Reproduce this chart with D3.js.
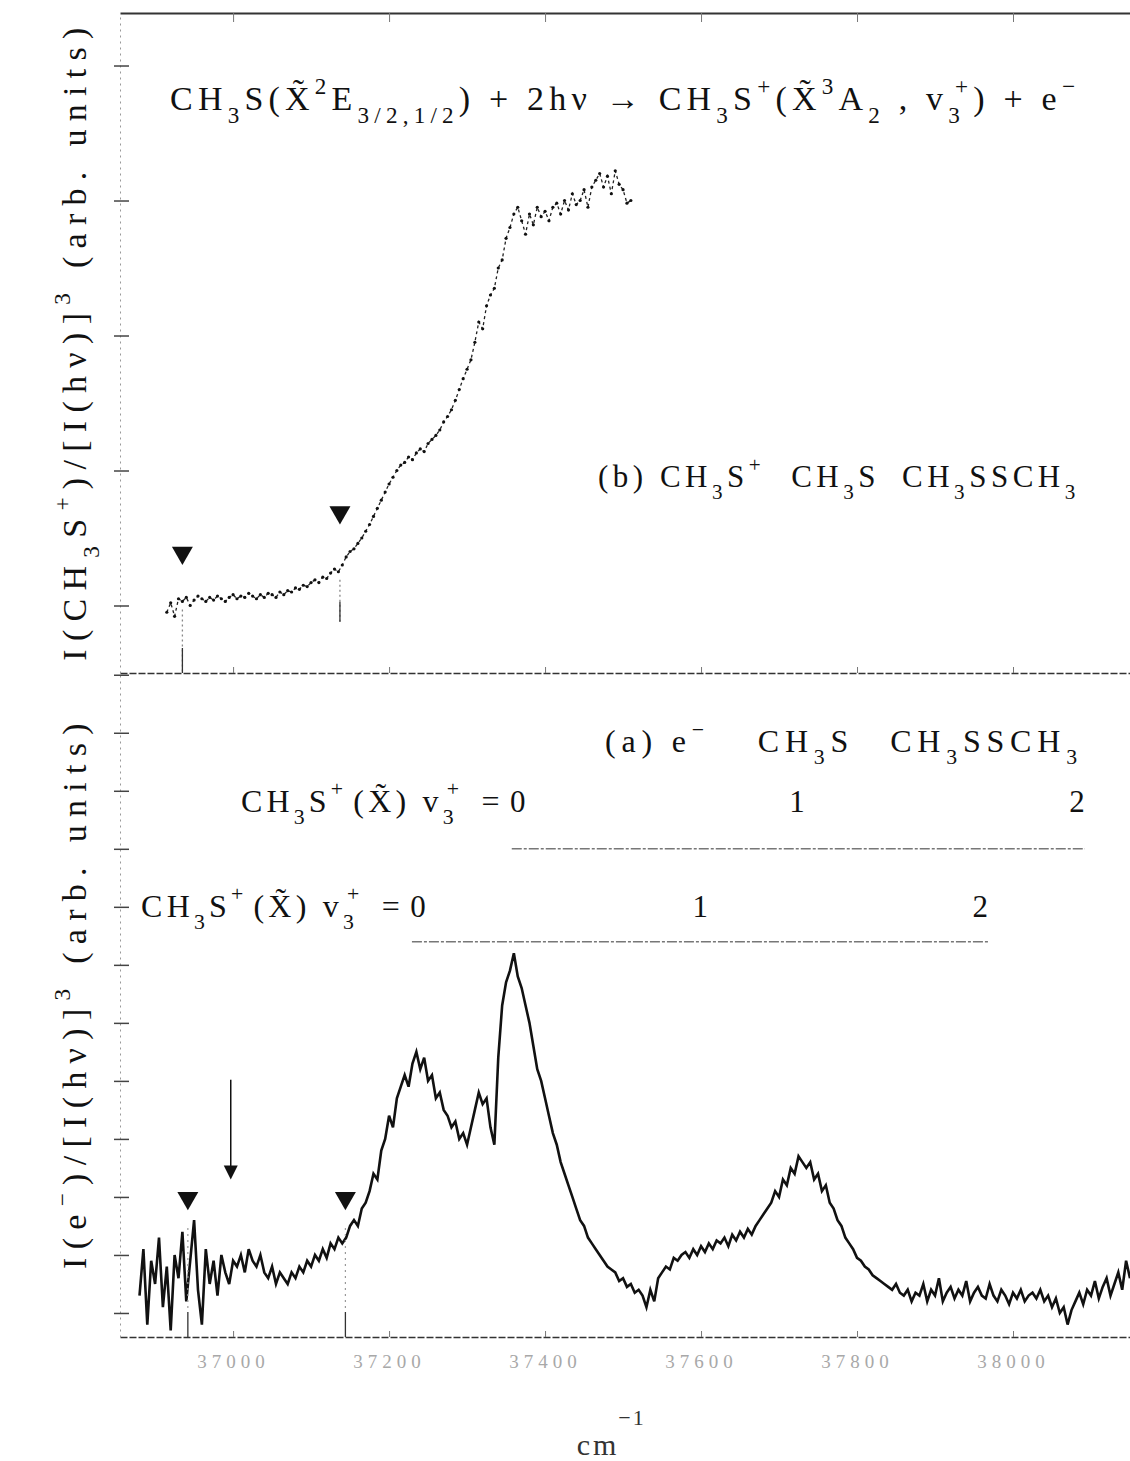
<!DOCTYPE html>
<html><head><meta charset="utf-8">
<script src="https://cdn.jsdelivr.net/npm/d3@7"></script>
<style>body{margin:0;background:#fff}svg{display:block}</style>
</head><body>
<script>
// ---------------- data ----------------
const xTickValues = [37000, 37200, 37400, 37600, 37800, 38000];
const xTickLabels = ["37000", "37200", "37400", "37600", "37800", "38000"];
const upperYTicks = [0, 1, 2, 3, 4];
const lowerYTicks = [0, 1, 2, 3, 4, 5, 6, 7, 8, 9, 10, 11];

// (b) CH3S+ ion signal, sampled every 5 cm-1
const upperStartCm = 36915, upperStepCm = 5;
const upperValues = [
 -0.05, 0.02, -0.08, 0.05, 0.03, 0.06, 0.0, 0.04, 0.07, 0.05,
  0.03, 0.06, 0.04, 0.07, 0.05, 0.03, 0.06, 0.08, 0.05, 0.07,
  0.06, 0.09, 0.07, 0.05, 0.08, 0.06, 0.09, 0.08, 0.06, 0.10,
  0.08, 0.11, 0.10, 0.13, 0.12, 0.15, 0.14, 0.17, 0.19, 0.17,
  0.21, 0.20, 0.24, 0.27, 0.25, 0.30, 0.36, 0.40, 0.42, 0.46,
  0.50, 0.55, 0.60, 0.66, 0.72, 0.78, 0.84, 0.90, 0.95, 1.00,
  1.04, 1.06, 1.10, 1.08, 1.13, 1.16, 1.14, 1.20, 1.23, 1.26,
  1.30, 1.36, 1.40, 1.45, 1.52, 1.60, 1.68, 1.75, 1.82, 1.95,
  2.10, 2.05, 2.22, 2.30, 2.35, 2.50, 2.56, 2.72, 2.80, 2.90,
  2.95, 2.85, 2.75, 2.90, 2.82, 2.95, 2.88, 2.92, 2.85, 2.95,
  2.98, 2.90, 3.00, 2.93, 3.05, 2.97, 3.00, 3.08, 2.95, 3.10,
  3.15, 3.20, 3.10, 3.18, 3.05, 3.22, 3.12, 3.08, 2.98, 3.00
];

// (a) electron signal, sampled every 5 cm-1
const lowerStartCm = 36880, lowerStepCm = 5;
const lowerValues = [
  0.3, 1.1, -0.2, 0.9, 0.5, 1.3, 0.1, 0.8, -0.3, 1.0,
  0.6, 1.4, 0.2, 0.9, 1.6, 0.4, -0.2, 1.1, 0.5, 0.9,
  0.3, 1.0, 0.7, 0.5, 0.9, 0.8, 1.0, 0.7, 1.1, 0.9,
  0.8, 1.0, 0.7, 0.6, 0.8, 0.5, 0.7, 0.6, 0.5, 0.7,
  0.6, 0.8, 0.7, 0.9, 0.8, 1.0, 0.9, 1.1, 0.95, 1.2,
  1.1, 1.3, 1.2, 1.3, 1.5, 1.6, 1.5, 1.8, 1.9, 2.1,
  2.4, 2.3, 2.8, 3.0, 3.4, 3.2, 3.7, 3.9, 4.1, 3.9,
  4.3, 4.5, 4.2, 4.4, 4.0, 4.1, 3.7, 3.8, 3.5, 3.4,
  3.2, 3.3, 3.0, 3.1, 2.9, 3.2, 3.5, 3.8, 3.6, 3.7,
  3.2, 2.9, 4.4, 5.3, 5.7, 5.9, 6.2, 5.8, 5.6, 5.3,
  5.0, 4.6, 4.2, 4.0, 3.7, 3.4, 3.1, 2.9, 2.6, 2.4,
  2.2, 2.0, 1.8, 1.6, 1.5, 1.3, 1.2, 1.1, 1.0, 0.9,
  0.8, 0.75, 0.7, 0.55, 0.6, 0.45, 0.5, 0.35, 0.4, 0.3,
  0.1, 0.4, 0.2, 0.6, 0.7, 0.8, 0.75, 0.95, 0.9, 1.0,
  1.05, 0.95, 1.1, 1.0, 1.15, 1.05, 1.2, 1.1, 1.25, 1.2,
  1.3, 1.15, 1.35, 1.25, 1.4, 1.3, 1.45, 1.35, 1.5, 1.6,
  1.7, 1.8, 1.9, 2.1, 2.0, 2.3, 2.2, 2.5, 2.4, 2.7,
  2.6, 2.5, 2.6, 2.3, 2.4, 2.1, 2.2, 1.9, 1.8, 1.6,
  1.5, 1.3, 1.2, 1.1, 0.95, 0.9, 0.8, 0.75, 0.65, 0.6,
  0.55, 0.5, 0.45, 0.4, 0.5, 0.35, 0.3, 0.4, 0.2, 0.35,
  0.3, 0.5, 0.2, 0.4, 0.3, 0.6, 0.2, 0.35, 0.45, 0.25,
  0.4, 0.3, 0.55, 0.2, 0.35, 0.45, 0.3, 0.25, 0.5, 0.3,
  0.2, 0.4, 0.3, 0.15, 0.35, 0.25, 0.4, 0.2, 0.3, 0.35,
  0.25, 0.4, 0.2, 0.3, 0.1, 0.25, 0.0, 0.1, -0.2, 0.05,
  0.2, 0.35, 0.15, 0.4, 0.3, 0.55, 0.25, 0.45, 0.6, 0.3,
  0.5, 0.7, 0.4, 0.9, 0.6
];

// markers
const upperMarkersCm = [36935, 37137];
const upperMarkerLevels = [0.39, 0.69];
const lowerMarkersCm = [36942, 37144];
const lowerMarkerLevels = [1.98, 1.98];
const arrowCm = [36997];
const arrowFromTo = [4.02, 2.3];

// vibrational progressions (lower panel)
const progressionLabels = ["0", "1", "2"];
const progressionA = [37365, 37723, 38082];
const progressionB = [37237, 37599, 37958];
const progressionALevels = [8.64, 8.0];  // text baseline, line
const progressionBLevels = [6.83, 6.4];

// ---------------- layout ----------------
const W = 1130, H = 1461;
const FONT = "'Liberation Serif','DejaVu Serif',serif";
const svg = d3.select("body").append("svg").attr("width", W).attr("height", H)
  .style("font-family", FONT);

const x = d3.scaleLinear().domain([36855, 38150]).range([120, 1130]);
const yU = d3.scaleLinear().domain([-0.5, 4.389]).range([673, 13]);
const yL = d3.scaleLinear().domain([-0.414, 11.03]).range([1337, 673]);

const upperData = upperValues.map((v, i) => ({cm: upperStartCm + i * upperStepCm, v}));
const lowerData = lowerValues.map((v, i) => ({cm: lowerStartCm + i * lowerStepCm, v}));

const defs = svg.append("defs");
defs.append("clipPath").attr("id", "clipL").append("rect")
  .attr("x", 120).attr("y", 673).attr("width", 1010).attr("height", 664);

// rich text helper
function rich(parent, px, py, parts, size, opts = {}) {
  const t = parent.append("text").attr("x", px).attr("y", py)
    .attr("font-size", size).attr("text-anchor", opts.anchor || "start")
    .attr("fill", opts.fill || "#111")
    .attr("letter-spacing", opts.ls || 0);
  if (opts.transform) t.attr("transform", opts.transform);
  let shift = 0;
  parts.forEach(p => {
    const kind = p[1] || "n";
    const target = kind === "sub" ? size * 0.38 : kind === "sup" ? -size * 0.48 : 0;
    const ts = t.append("tspan").text(p[0]).attr("dy", target - shift);
    if (kind !== "n") ts.attr("font-size", size * 0.68);
    if (p[2] !== undefined) ts.attr("dx", p[2]);
    shift = target;
  });
  return t;
}

// ---------------- frame / axes ----------------
const frame = svg.append("g");
const topAx = frame.append("g").attr("transform", "translate(0,13)")
  .call(d3.axisBottom(x).tickValues(xTickValues).tickSizeInner(9).tickSizeOuter(0).tickFormat(""));
topAx.select(".domain").attr("stroke", "#333").attr("stroke-width", 2);
topAx.selectAll(".tick line").attr("stroke", "#777");

const midAx = frame.append("g").attr("transform", "translate(0,673)")
  .call(d3.axisTop(x).tickValues(xTickValues).tickSizeInner(6).tickSizeOuter(0).tickFormat(""));
midAx.select(".domain").attr("stroke", "#333").attr("stroke-width", 1.6).attr("stroke-dasharray", "7,2");
midAx.selectAll(".tick line").attr("stroke", "#777");

const botAx = frame.append("g").attr("transform", "translate(0,1337)")
  .call(d3.axisBottom(x).tickValues(xTickValues).tickSizeInner(-6).tickSizeOuter(0)
    .tickPadding(14).tickFormat((d, i) => xTickLabels[i]));
botAx.select(".domain").attr("stroke", "#333").attr("stroke-width", 1.6).attr("stroke-dasharray", "7,2");
botAx.selectAll(".tick line").attr("stroke", "#777");
botAx.selectAll(".tick text").attr("font-family", FONT).attr("font-size", 19)
  .attr("fill", "#a8a8a8").attr("letter-spacing", 5).attr("dy", "0.9em");

function leftAxis(scale, ticks) {
  const g = frame.append("g").attr("transform", "translate(120,0)")
    .call(d3.axisLeft(scale).tickValues(ticks).tickSizeInner(-9).tickSizeOuter(0).tickFormat(""));
  g.select(".domain").attr("stroke", "#999").attr("stroke-dasharray", "2,4");
  g.selectAll(".tick line").attr("x1", -6).attr("stroke", "#444").attr("stroke-width", 1.5);
}
leftAxis(yU, upperYTicks);
leftAxis(yL, lowerYTicks);

// ---------------- upper panel (b) ----------------
const up = svg.append("g");
up.append("path").datum(upperData)
  .attr("fill", "none").attr("stroke", "#222").attr("stroke-width", 1.3)
  .attr("stroke-dasharray", "3,3")
  .attr("d", d3.line().x(d => x(d.cm)).y(d => yU(d.v)));
up.selectAll("circle").data(upperData).enter().append("circle")
  .attr("cx", d => x(d.cm)).attr("cy", d => yU(d.v)).attr("r", 1.6).attr("fill", "#111");

const tri = d3.symbol().type(d3.symbolTriangle).size(190);
upperMarkersCm.forEach((cm, i) => {
  up.append("path").attr("d", tri)
    .attr("transform", `translate(${x(cm)},${yU(upperMarkerLevels[i])}) rotate(180)`)
    .attr("fill", "#111");
  const idx = Math.round((cm - upperStartCm) / upperStepCm);
  const v = upperValues[Math.max(0, Math.min(upperValues.length - 1, idx))];
  up.append("line").attr("x1", x(cm)).attr("x2", x(cm))
    .attr("y1", yU(v) + 8).attr("y2", i === 0 ? 673 : yU(v) + 52)
    .attr("stroke", "#888").attr("stroke-width", 1.3).attr("stroke-dasharray", "2,3");
  up.append("line").attr("x1", x(cm)).attr("x2", x(cm))
    .attr("y1", i === 0 ? 648 : yU(v) + 30).attr("y2", i === 0 ? 673 : yU(v) + 50)
    .attr("stroke", "#333").attr("stroke-width", 1.3);
});

// ---------------- lower panel (a) ----------------
const lo = svg.append("g").attr("clip-path", "url(#clipL)");
lo.append("path").datum(lowerData)
  .attr("fill", "none").attr("stroke", "#111").attr("stroke-width", 2.6)
  .attr("stroke-linejoin", "miter")
  .attr("d", d3.line().x(d => x(d.cm)).y(d => yL(d.v)));

lowerMarkersCm.forEach((cm, i) => {
  lo.append("path").attr("d", tri)
    .attr("transform", `translate(${x(cm)},${yL(lowerMarkerLevels[i])}) rotate(180)`)
    .attr("fill", "#111");
  lo.append("line").attr("x1", x(cm)).attr("x2", x(cm))
    .attr("y1", yL(lowerMarkerLevels[i]) + 30).attr("y2", 1310)
    .attr("stroke", "#999").attr("stroke-width", 1.2).attr("stroke-dasharray", "2,4");
  lo.append("line").attr("x1", x(cm)).attr("x2", x(cm))
    .attr("y1", 1312).attr("y2", 1337)
    .attr("stroke", "#333").attr("stroke-width", 1.3);
});
arrowCm.forEach(cm => {
  const ax = x(cm);
  lo.append("line").attr("x1", ax).attr("x2", ax)
    .attr("y1", yL(arrowFromTo[0])).attr("y2", yL(arrowFromTo[1]) - 12)
    .attr("stroke", "#111").attr("stroke-width", 1.5);
  const yt = yL(arrowFromTo[1]);
  lo.append("path").attr("d", `M${ax - 7},${yt - 14}L${ax + 7},${yt - 14}L${ax},${yt}Z`).attr("fill", "#111");
});

// progressions
function progression(cms, levels) {
  const g = svg.append("g");
  const yt = yL(levels[0]), yl = yL(levels[1]);
  rich(g, x(cms[0]) - 14, yt,
    [["CH"], ["3", "sub"], ["S"], ["+", "sup"], ["(X̃)  v", "n", 6], ["3", "sub"], ["+", "sup", -11], ["  =", "n", 6]],
    32, {anchor: "end", ls: 4.2});
  cms.forEach((cm, i) => {
    g.append("text").attr("x", x(cm)).attr("y", yt).attr("text-anchor", "middle")
      .attr("font-size", 31).attr("fill", "#111").text(progressionLabels[i]);
  });
  g.append("line").attr("x1", x(cms[0]) - 6).attr("x2", x(cms[2]) + 8)
    .attr("y1", yl).attr("y2", yl)
    .attr("stroke", "#777").attr("stroke-width", 1.5).attr("stroke-dasharray", "10,2,3,2");
}
progression(progressionA, progressionALevels);
progression(progressionB, progressionBLevels);

// ---------------- texts ----------------
const txt = svg.append("g");
rich(txt, 170, 110,
  [["CH"], ["3", "sub"], ["S(X̃"], ["2", "sup"], ["E"], ["3/2,1/2", "sub"],
   [")  +  2hν  →  CH"], ["3", "sub"], ["S"], ["+", "sup"], ["(X̃"], ["3", "sup"], ["A"], ["2", "sub"],
   [" ,  v"], ["3", "sub"], ["+", "sup", -10], [")  +  e"], ["−", "sup"]],
  34, {ls: 5.2});

rich(txt, 598, 487,
  [["(b) CH"], ["3", "sub"], ["S"], ["+", "sup"], ["CH", "n", 26], ["3", "sub"], ["S"], ["CH", "n", 22], ["3", "sub"], ["SSCH"], ["3", "sub"]],
  31, {ls: 4.5});

rich(txt, 605, 752,
  [["(a) e"], ["−", "sup"], ["CH", "n", 48], ["3", "sub"], ["S"], ["CH", "n", 36], ["3", "sub"], ["SSCH"], ["3", "sub"]],
  32, {ls: 5.8});

// y labels
rich(txt, 0, 0,
  [["I(CH"], ["3", "sub"], ["S"], ["+", "sup"], [")/[I(hν)]"], ["3", "sup"], [" (arb. units)"]],
  34, {anchor: "middle", ls: 8.3, transform: "translate(86,340) rotate(-90)"});
rich(txt, 0, 0,
  [["I(e"], ["−", "sup"], [")/[I(hν)]"], ["3", "sup"], [" (arb. units)"]],
  34, {anchor: "middle", ls: 8.3, transform: "translate(86,992) rotate(-90)"});

// x label
txt.append("text").attr("x", 598).attr("y", 1455).attr("text-anchor", "middle")
  .attr("font-size", 30).attr("fill", "#333").attr("letter-spacing", 3).text("cm");
txt.append("text").attr("x", 632).attr("y", 1425).attr("text-anchor", "middle")
  .attr("font-size", 22).attr("fill", "#333").attr("letter-spacing", 2).text("−1");
</script>
</body></html>
